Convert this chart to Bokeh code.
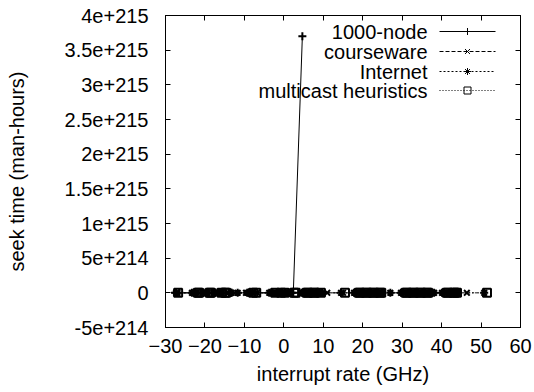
from bokeh.plotting import figure
from bokeh.models import Range1d, FixedTicker, CustomJSTickFormatter, LinearAxis
from bokeh.core.properties import value
from bokeh.embed import file_html
from bokeh.resources import INLINE

# ---- data ----
x_ticks = [-30, -20, -10, 0, 10, 20, 30, 40, 50, 60]
y_ticks = [-5e214, 0, 5e214, 1e215, 1.5e215, 2e215, 2.5e215, 3e215, 3.5e215, 4e215]

series_names = ["1000-node", "courseware", "Internet", "multicast heuristics"]

node_x = [-27.6, -26.5, -22.7, -21.2, -20.9, -20.6, -19.1, -18.2, -17.6, -17.3,
          -15.5, -15.2, -13.7, -9.0, -8.7, -7.3, -3.1, -1.6, -1.3, 0.5,
          2.0, 2.4, 4.7]
node_y = [0, 0, 0, 0, 0, 0, 0, 0, 0, 0,
          0, 0, 0, 0, 0, 0, 0, 0, 0, 0,
          0, 0, 3.7e215]

course_x = [-27.0, -23.0, -22.1, -20.0, -19.7, -17.0, -16.7, -14.3, -14.0, -9.6,
            -8.1, -6.8, -3.4, -2.5, -1.0, -0.1, 0.8, 1.7, 4.9, 5.2,
            6.7, 7.0, 8.5, 8.8, 11.0, 15.0, 18.4, 18.7, 20.2, 20.5,
            22.0, 22.3, 23.8, 24.1, 30.3, 30.6, 32.1, 32.4, 33.9, 34.2,
            35.7, 36.0, 37.5, 37.8, 40.7, 41.0, 42.5, 42.8, 46.4]
course_y = [0, 0, 0, 0, 0, 0, 0, 0, 0, 0,
            0, 0, 0, 0, 0, 0, 0, 0, 0, 0,
            0, 0, 0, 0, 0, 0, 0, 0, 0, 0,
            0, 0, 0, 0, 0, 0, 0, 0, 0, 0,
            0, 0, 0, 0, 0, 0, 0, 0, 0]

inet_x = [-27.3, -23.3, -22.4, -20.3, -19.4, -17.9, -16.4, -16.1, -13.4, -13.2,
          -11.7, -9.3, -8.4, -3.7, -2.8, -1.9, -0.4, 1.1, 1.4, 4.6,
          5.5, 6.4, 7.3, 8.2, 9.1, 9.7, 14.5, 17.8, 18.1, 19.6,
          19.9, 21.4, 21.7, 23.2, 23.5, 24.9, 27.0, 29.7, 30.0, 31.5,
          31.8, 33.3, 33.6, 35.1, 35.4, 36.9, 37.2, 38.1, 40.1, 40.4,
          41.9, 42.2, 43.7, 50.8]
inet_y = [0, 0, 0, 0, 0, 0, 0, 0, 0, 0,
          0, 0, 0, 0, 0, 0, 0, 0, 0, 0,
          0, 0, 0, 0, 0, 0, 0, 0, 0, 0,
          0, 0, 0, 0, 0, 0, 0, 0, 0, 0,
          0, 0, 0, 0, 0, 0, 0, 0, 0, 0,
          0, 0, 0, 0]

multi_x = [-26.8, -21.8, -21.5, -18.8, -18.5, -15.8, -14.9, -14.6, -7.8, -7.0,
           -2.2, -0.7, 0.2, 2.6, 3.0, 5.8, 6.1, 7.6, 7.9, 9.4,
           15.5, 19.0, 19.3, 20.8, 21.1, 22.6, 22.9, 24.4, 24.7, 30.9,
           31.2, 32.7, 33.0, 34.5, 34.8, 36.3, 36.6, 41.3, 41.6, 43.1,
           43.4, 43.9, 51.5]
multi_y = [0, 0, 0, 0, 0, 0, 0, 0, 0, 0,
           0, 0, 0, 0, 0, 0, 0, 0, 0, 0,
           0, 0, 0, 0, 0, 0, 0, 0, 0, 0,
           0, 0, 0, 0, 0, 0, 0, 0, 0, 0,
           0, 0, 0]

# ---- layout ----
W, H = 534, 392
FL, FR, FT, FB = 165, 520, 15, 327
XR = (-30, 60)
YR = (-5e214, 4e215)
FONT = "Liberation Sans"
FS = "20px"

p = figure(width=W, height=H, output_backend="svg", toolbar_location=None,
           x_range=Range1d(*XR), y_range=Range1d(*YR),
           min_border_left=FL, min_border_right=W - FR,
           min_border_top=FT, min_border_bottom=H - FB)
p.grid.visible = False
p.outline_line_color = "black"
p.outline_line_width = 1
p.background_fill_color = "white"
p.border_fill_color = "white"


def style_axis(ax, ticks):
    ax.ticker = FixedTicker(ticks=ticks)
    ax.minor_tick_line_color = None
    ax.major_tick_in = 5
    ax.major_tick_out = 0
    ax.axis_line_color = "black"
    ax.major_tick_line_color = "black"
    ax.major_label_text_font = FONT
    ax.major_label_text_font_size = FS
    ax.major_label_text_color = "black"
    ax.axis_label_text_font = FONT
    ax.axis_label_text_font_size = FS
    ax.axis_label_text_font_style = "normal"
    ax.axis_label_text_color = "black"


xa = p.xaxis[0]
style_axis(xa, x_ticks)
xa.major_label_standoff = 11
xa.axis_label = "interrupt rate (GHz)"
xa.axis_label_standoff = 7

ya = p.yaxis[0]
style_axis(ya, y_ticks)
ya.formatter = CustomJSTickFormatter(
    code="if (tick == 0) { return '0'; } return tick.toExponential();")
ya.major_label_standoff = 17
ya.axis_label = "seek time (man-hours)"
ya.axis_label_standoff = 34

blank = "return '';"
top = LinearAxis()
style_axis(top, x_ticks)
top.formatter = CustomJSTickFormatter(code=blank)
top.major_label_standoff = 0
p.add_layout(top, "above")
right = LinearAxis()
style_axis(right, y_ticks)
right.formatter = CustomJSTickFormatter(code=blank)
right.major_label_standoff = 0
p.add_layout(right, "right")

styles = [
    dict(dash="solid", marker="cross"),
    dict(dash="4 2", marker="x"),
    dict(dash="2 2", marker="asterisk"),
    dict(dash="1 2", marker="square"),
]
data = [(node_x, node_y), (course_x, course_y), (inet_x, inet_y), (multi_x, multi_y)]

for (xs, ys), st in zip(data, styles):
    p.line(xs, ys, line_color="black", line_width=1, line_dash=st["dash"])
    p.scatter(xs, ys, marker=st["marker"], size=8, line_color="black",
              fill_color=None, line_width=2)


# ---- manual gnuplot-style legend (positions in canvas pixels) ----
def sx(px):
    return XR[0] + (px - FL) / (FR - FL) * (XR[1] - XR[0])


def sy(py):
    return YR[1] - (py - FT) / (FB - FT) * (YR[1] - YR[0])


rows = [31, 51, 71, 90]
p.text(x=[sx(427)] * 4, y=[sy(r) for r in rows], text=series_names,
       text_font=value(FONT), text_font_size=value(FS), text_align="right",
       text_baseline="middle", text_color="black")
for r, st in zip(rows, styles):
    p.line([sx(439), sx(495)], [sy(r), sy(r)], line_color="black", line_width=1,
           line_dash=st["dash"])
    p.scatter([sx(467)], [sy(r)], marker=st["marker"], size=7, line_color="black",
              fill_color=None, line_width=1)

open("out.html", "w").write(file_html(p, INLINE))
